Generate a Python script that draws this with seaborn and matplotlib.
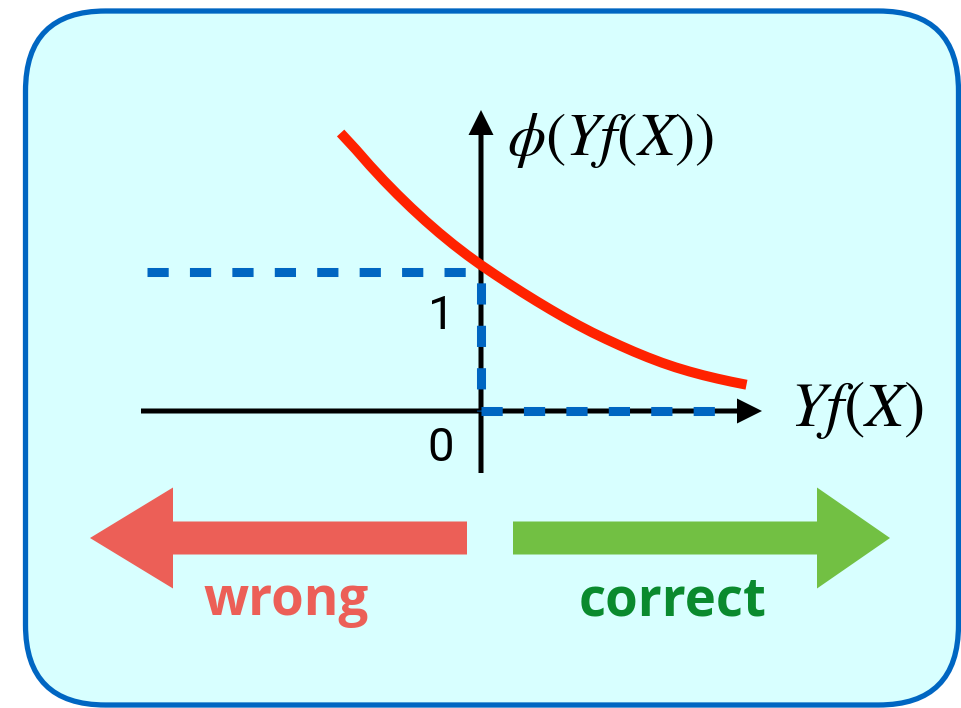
import matplotlib
matplotlib.use('Agg')
import numpy as np
import pandas as pd
import seaborn as sns
import matplotlib.pyplot as plt
from matplotlib.patches import FancyBboxPatch

###############################################################################
# Data (axis units)
###############################################################################
LOSS_X = [-1.01, -0.9, -0.8, -0.7, -0.6, -0.5, -0.4, -0.3, -0.2, -0.1, 0.0,
          0.1, 0.2, 0.3, 0.4, 0.5, 0.6, 0.7, 0.8, 0.9, 1.0, 1.1, 1.2, 1.3,
          1.4, 1.5, 1.6, 1.7, 1.8, 1.91]
LOSS_Y = [2.00, 1.881, 1.767, 1.659, 1.557, 1.460, 1.368, 1.281, 1.199, 1.122,
          1.05, 0.982, 0.916, 0.852, 0.790, 0.730, 0.672, 0.617, 0.565, 0.517,
          0.471, 0.427, 0.386, 0.348, 0.314, 0.284, 0.257, 0.233, 0.211, 0.189]
STEP_LEFT_X = [-2.40, 0.0]
STEP_LEFT_Y = [1.0, 1.0]
STEP_JUMP_X = [0.0, 0.0]
STEP_JUMP_Y = [1.0, 0.0]
STEP_RIGHT_X = [0.0, 1.68]
STEP_RIGHT_Y = [0.0, 0.0]
TICK_VALS = [0, 1]
TICK_LBLS = ['0', '1']
Y_LABEL = r'$\phi(Yf(X))$'
X_LABEL = r'$Yf(X)$'
ARROW_LBLS = ('wrong', 'correct')

###############################################################################
# Layout helpers (pixel -> axis units)
###############################################################################
(W, H, OX, OY, SC) = (961, 708, 481, 411, 139.0)


def px(x):
    return (x - OX) / SC


def py(y):
    return (OY - y) / SC


(clrBox, clrEdge) = ('#D8FFFF', '#0066C2')
(clrLoss, clrStep) = ('#FF2200', '#0066C2')
(clrWrong, clrRight, clrRightTxt) = ('#EC5F57', '#72C043', '#0A8A2E')

sns.set_style('white')
plt.rcParams['mathtext.fontset'] = 'stix'
fig = plt.figure(figsize=(W / 100, H / 100), dpi=100)
ax = fig.add_axes([0, 0, 1, 1])
ax.set_xlim(px(0), px(W))
ax.set_ylim(py(H), py(0))
ax.axis('off')

# Background box ---------------------------------------------------------------
box = FancyBboxPatch(
    (px(25.5), py(705)), px(958.5) - px(25.5), py(11) - py(705),
    boxstyle='round,pad=0,rounding_size={}'.format(80 / SC),
    facecolor=clrBox, edgecolor=clrEdge, linewidth=3.8, zorder=0
)
ax.add_patch(box)

# Axes arrows -------------------------------------------------------------------
(aw, ah) = (5 / SC, 25 / SC)
ax.arrow(px(141), 0, px(762) - px(141), 0, width=aw, head_width=ah,
         head_length=ah, length_includes_head=True, color='black', lw=0, zorder=2)
ax.arrow(0, py(473), 0, py(110) - py(473), width=aw, head_width=ah,
         head_length=ah, length_includes_head=True, color='black', lw=0, zorder=2)

# Step (0-1) loss ---------------------------------------------------------------
lwStep = 6.5
dsh = (2.35, 2.35)
sns.lineplot(x=STEP_LEFT_X, y=STEP_LEFT_Y, ax=ax, color=clrStep, lw=lwStep,
             estimator=None, sort=False, linestyle=(0, dsh), zorder=3)
sns.lineplot(x=STEP_JUMP_X, y=STEP_JUMP_Y, ax=ax, color=clrStep, lw=lwStep,
             estimator=None, sort=False, linestyle=(3.5, dsh), zorder=3)
sns.lineplot(x=STEP_RIGHT_X, y=STEP_RIGHT_Y, ax=ax, color=clrStep, lw=lwStep,
             estimator=None, sort=False, linestyle=(0, dsh), zorder=3)

# Surrogate loss ----------------------------------------------------------------
sns.lineplot(x=LOSS_X, y=LOSS_Y, ax=ax, color=clrLoss, lw=7.2,
             estimator=None, sort=False, solid_capstyle='butt',
             solid_joinstyle='round', zorder=4)

# Ticks and labels --------------------------------------------------------------
for (v, l) in zip(TICK_VALS, TICK_LBLS):
    yy = py(448) if v == 0 else py(316)
    ax.text(px(441), yy, l, ha='center', va='center', fontsize=34,
            family='Roboto', color='black', zorder=5)
ax.text(px(507), py(155), Y_LABEL, ha='left', va='baseline', fontsize=44,
        color='black', zorder=5)
ax.text(px(790), py(426), X_LABEL, ha='left', va='baseline', fontsize=46,
        color='black', zorder=5)

# Direction arrows --------------------------------------------------------------
ax.arrow(px(467), py(538), px(90) - px(467), 0, width=33 / SC,
         head_width=101 / SC, head_length=83 / SC, length_includes_head=True,
         color=clrWrong, lw=0, zorder=2)
ax.arrow(px(513), py(538), px(890) - px(513), 0, width=33 / SC,
         head_width=101 / SC, head_length=73 / SC, length_includes_head=True,
         color=clrRight, lw=0, zorder=2)
ax.text(px(286), py(615), ARROW_LBLS[0], ha='center', va='baseline', fontsize=38,
        family='Open Sans', fontweight='bold', color=clrWrong, zorder=5)
ax.text(px(673), py(615), ARROW_LBLS[1], ha='center', va='baseline', fontsize=38,
        family='Open Sans', fontweight='bold', color=clrRightTxt, zorder=5)

fig.savefig('out.png', dpi=100, facecolor='white')
